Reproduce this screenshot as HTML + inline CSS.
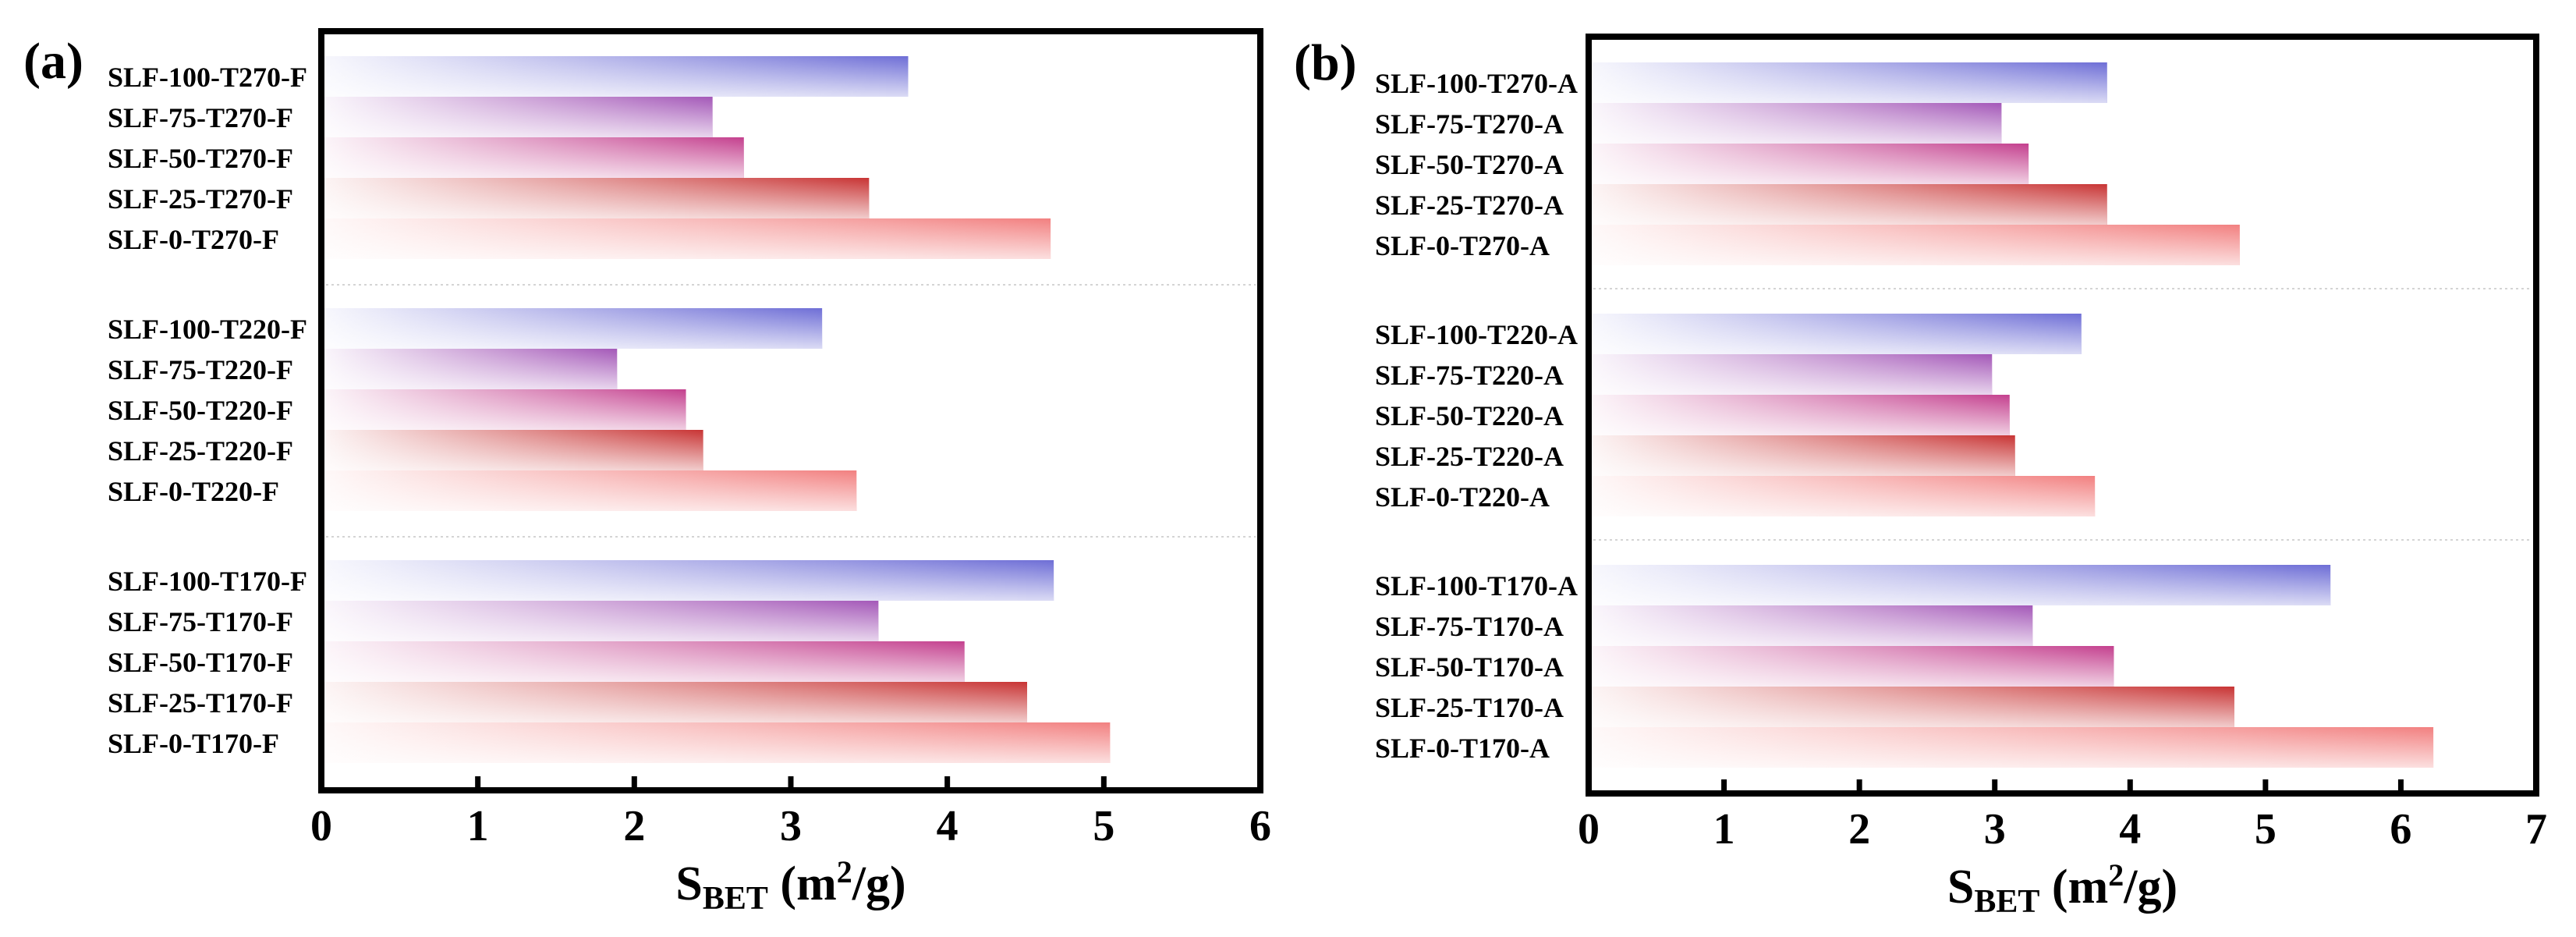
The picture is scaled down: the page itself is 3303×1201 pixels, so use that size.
<!DOCTYPE html>
<html><head><meta charset="utf-8"><style>
html,body{margin:0;padding:0;background:#fff;}
svg{display:block;}
text{font-family:"Liberation Serif",serif;font-weight:bold;fill:#000;}
</style></head>
<body>
<svg id="chart" width="3303" height="1201" viewBox="0 0 3303 1201" xmlns="http://www.w3.org/2000/svg">
<defs>
</defs>
<g id="pa"></g>
<g id="pb"></g>
</svg>
<script>
const labelsA = ["SLF-100-T270-F","SLF-75-T270-F","SLF-50-T270-F","SLF-25-T270-F","SLF-0-T270-F",
"SLF-100-T220-F","SLF-75-T220-F","SLF-50-T220-F","SLF-25-T220-F","SLF-0-T220-F",
"SLF-100-T170-F","SLF-75-T170-F","SLF-50-T170-F","SLF-25-T170-F","SLF-0-T170-F"];
const valuesA = [3.75,2.50,2.70,3.50,4.66, 3.20,1.89,2.33,2.44,3.42, 4.68,3.56,4.11,4.51,5.04];
const labelsB = ["SLF-100-T270-A","SLF-75-T270-A","SLF-50-T270-A","SLF-25-T270-A","SLF-0-T270-A",
"SLF-100-T220-A","SLF-75-T220-A","SLF-50-T220-A","SLF-25-T220-A","SLF-0-T220-A",
"SLF-100-T170-A","SLF-75-T170-A","SLF-50-T170-A","SLF-25-T170-A","SLF-0-T170-A"];
const valuesB = [3.83,3.05,3.25,3.83,4.81, 3.64,2.98,3.11,3.15,3.74, 5.48,3.28,3.88,4.77,6.24];
const ticksA = ["0","1","2","3","4","5","6"];
const ticksB = ["0","1","2","3","4","5","6","7"];

const NS="http://www.w3.org/2000/svg";
const colors=["#6e6ed6","#a458b8","#c4408e","#c83434","#f28080"];
const defs=document.querySelector("defs");
colors.forEach((c,i)=>{
  const g=document.createElementNS(NS,"linearGradient");
  g.setAttribute("id","h"+i);g.setAttribute("x1","0");g.setAttribute("y1","0");g.setAttribute("x2","1");g.setAttribute("y2","0");
  g.innerHTML='<stop offset="0" stop-color="'+c+'" stop-opacity="0.05"/><stop offset="1" stop-color="'+c+'" stop-opacity="1"/>';
  defs.appendChild(g);
});
const v=document.createElementNS(NS,"linearGradient");
v.setAttribute("id","vw");v.setAttribute("x1","0");v.setAttribute("y1","0");v.setAttribute("x2","0");v.setAttribute("y2","1");
v.innerHTML='<stop offset="0" stop-color="#fff" stop-opacity="0"/><stop offset="1" stop-color="#fff" stop-opacity="0.75"/>';
defs.appendChild(v);

function el(parent,tag,attrs,txt){const e=document.createElementNS(NS,tag);for(const k in attrs)e.setAttribute(k,attrs[k]);if(txt!==undefined)e.textContent=txt;parent.appendChild(e);return e;}

function panel(gid,cfg,labels,values,ticks){
  const g=document.getElementById(gid);
  const xs=val=>cfg.x0+(cfg.x1-cfg.x0)*val/cfg.max;
  cfg.seps.forEach(y=>{
    const s=el(g,"line",{x1:cfg.x0+6,x2:cfg.x1-6,y1:y,y2:y,stroke:"#d4d4d4","stroke-width":2,"stroke-dasharray":"3 4"});
    
    
  });
  values.forEach((val,i)=>{
    const grp=Math.floor(i/5),k=i%5;
    const y=cfg.groupTops[grp]+k*cfg.step;
    const w=xs(val)-cfg.x0;
    const r=el(g,"rect",{x:cfg.x0,y:y,width:w,height:cfg.step,fill:"url(#h"+k+")"});
    
    
    const o=el(g,"rect",{x:cfg.x0,y:y,width:w,height:cfg.step,fill:"url(#vw)"});
    
    
    const t=el(g,"text",{x:cfg.lx,y:y+cfg.step/2+13,"font-size":36},labels[i]);
    
    
  });
  const f=el(g,"rect",{x:cfg.x0,y:cfg.top,width:cfg.x1-cfg.x0,height:cfg.bottom-cfg.top,fill:"none",stroke:"#000","stroke-width":8});
  
  
  ticks.forEach((tl,i)=>{
    const x=xs(+tl);
    if(i>0&&i<ticks.length-1){
      const tk=el(g,"line",{x1:x,x2:x,y1:cfg.bottom,y2:cfg.bottom-18,stroke:"#000","stroke-width":7});
      
      
    }
    const t=el(g,"text",{x:x,y:cfg.bottom+64,"font-size":56,"text-anchor":"middle"},tl);
    
    
  });
  const title=el(g,"text",{x:(cfg.x0+cfg.x1)/2,y:cfg.bottom+140,"font-size":62,"text-anchor":"middle"});
  
  
  title.innerHTML='S<tspan font-size="42" dy="12">BET</tspan><tspan dy="-12"> (m</tspan><tspan font-size="40" dy="-22">2</tspan><tspan dy="22">/g)</tspan>';
  const pl=el(g,"text",{x:cfg.px,y:cfg.py,"font-size":66},cfg.plabel);
  
  
}
panel("pa",{x0:412,x1:1616,max:6,top:40,bottom:1013,groupTops:[72,395,718],step:52,seps:[365,688],lx:138,px:30,py:100,plabel:"(a)"},labelsA,valuesA,ticksA);
panel("pb",{x0:2037,x1:3252,max:7,top:47,bottom:1017,groupTops:[80,402,724],step:52,seps:[370,692],lx:1763,px:1659,py:102,plabel:"(b)"},labelsB,valuesB,ticksB);
</script>
</body></html>
